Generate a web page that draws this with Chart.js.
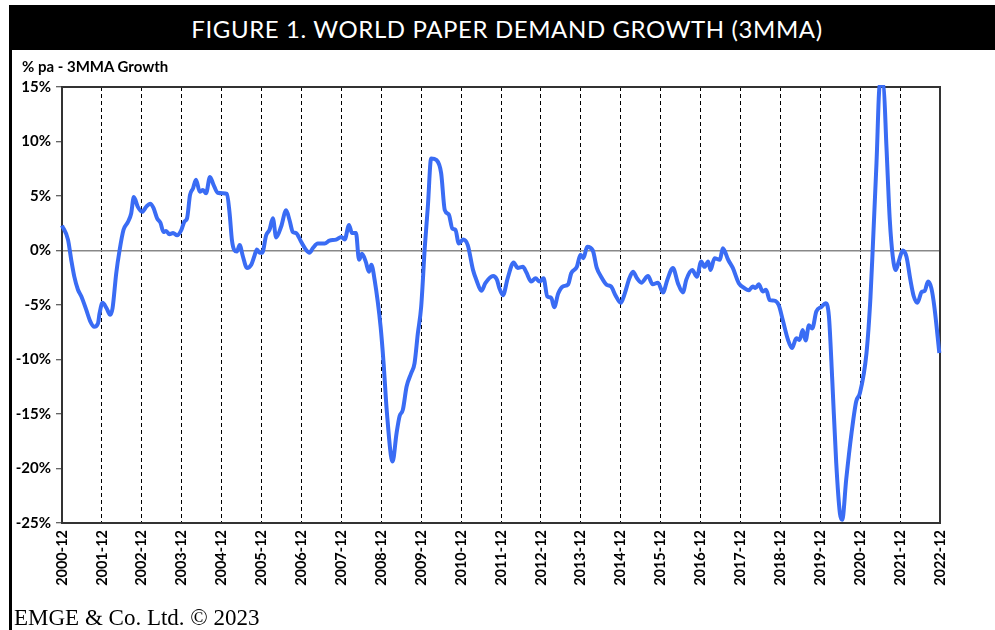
<!DOCTYPE html>
<html>
<head>
<meta charset="utf-8">
<script src="https://cdn.jsdelivr.net/npm/chart.js@4.4.1/dist/chart.umd.min.js"></script>
<style>
  html, body { margin: 0; padding: 0; background: #fff; }
  #wrap { position: relative; width: 995px; height: 630px; overflow: hidden; background: #fff; }
  #titlebar { position: absolute; left: 9px; top: 5px; width: 986px; height: 45px; background: #000; }
  #title { position: absolute; left: 9px; top: 5px; width: 996px; height: 45px; line-height: 47px; text-align: center;
           color: #fff; font-family: Lato, "Open Sans", sans-serif; font-weight: 400; font-size: 24px; letter-spacing: 0.6px; }
  #leftline { position: absolute; left: 9px; top: 50px; width: 3px; height: 580px; background: #000; }
  #ylab { position: absolute; left: 22px; top: 57px; font-family: Lato, sans-serif; font-weight: 700; font-size: 15px; color: #000; }
  #footer { position: absolute; left: 14px; top: 605px; font-family: "Liberation Serif", "DejaVu Serif", serif; font-size: 23px; color: #000; }
  #c { position: absolute; left: 0; top: 0; }
</style>
</head>
<body>
<div id="wrap">
  <canvas id="c" width="995" height="630"></canvas>
  <div id="titlebar"></div>
  <div id="title">FIGURE 1. WORLD PAPER DEMAND GROWTH (3MMA)</div>
  <div id="leftline"></div>
  <div id="ylab">% pa - 3MMA Growth</div>
  <div id="footer">EMGE &amp; Co. Ltd. © 2023</div>
</div>
<script>
// Months since 2000-12 (read positions along the curve)
const months = [
  0, 1.8, 2.8, 3.7, 4.8, 5.8, 7.3, 8.5, 9.7, 10.8, 11.3, 12.2, 13.4, 14.5, 15.2, 16.3, 17.3, 18.5, 19.8, 20.8,
  21.6, 22.8, 24.1, 25.3, 26.5, 27.5, 28.6, 29.6, 30.5, 31.3, 32.3, 33.4, 34.6, 35.9, 36.8, 37.6, 38.5, 39.4, 40.3, 41.4,
  42.4, 43.3, 44.5, 45.6, 46.8, 48.4, 49.6, 50.4, 51.1, 51.8, 52.6, 53.4, 54.4, 55.6, 56.9, 57.8, 58.6, 59.4, 60.2, 61.4,
  62.4, 63.4, 64.4, 65.9, 67.4, 68.4, 69.4, 70.4, 71.9, 73.4, 74.4, 75.5, 76.9, 79.0, 80.4, 82.4, 84.0, 85.0, 86.3, 87.2,
  88.4, 89.3, 90.2, 91.3, 92.3, 93.0, 94.0, 95.8, 96.7, 97.7, 99.4, 100.6, 101.5, 102.5, 103.6, 105.0, 106.0, 107.0, 108.0, 109.1,
  110.0, 111.0, 112.6, 114.0, 115.1, 116.3, 117.4, 118.3, 119.3, 120.6, 122.0, 123.6, 124.6, 126.1, 127.3, 129.6, 130.8, 131.5, 132.6, 134.0,
  135.8, 137.0, 138.6, 139.6, 141.1, 142.4, 143.6, 144.8, 145.9, 147.1, 148.0, 149.2, 150.6, 152.2, 153.1, 154.8, 155.9, 156.8, 157.9, 159.6,
  160.8, 162.1, 163.8, 165.1, 166.4, 168.0, 169.2, 170.6, 171.7, 172.9, 174.2, 176.2, 177.6, 179.2, 180.7, 182.0, 183.7, 185.2, 186.7, 187.7,
  189.5, 190.9, 192.2, 193.2, 194.3, 195.0, 196.2, 197.8, 198.7, 200.3, 201.7, 203.5, 205.2, 206.5, 207.7, 208.5, 209.5, 210.7, 211.7, 212.8,
  214.2, 215.5, 216.7, 218.3, 219.5, 220.8, 221.8, 222.7, 223.6, 224.6, 225.6, 226.8, 228.4, 229.6, 230.6, 231.6, 232.8, 233.9, 234.6, 235.8,
  237.4, 238.8, 239.9, 241.9, 243.1, 243.8, 244.9, 245.9, 247.0, 247.9, 248.9, 249.8, 250.7, 251.6, 252.8, 253.9, 255.1, 256.1, 257.2, 258.5,
  259.4, 260.4, 261.4, 262.3, 263.8
];
// World paper demand growth, % pa (3MMA)
const growth = [
  2.3, 1.0, -0.9, -2.4, -3.6, -4.2, -5.45, -6.5, -7.0, -6.7, -5.75, -4.8, -5.3, -5.9, -5.3, -2.1, 0.0, 1.9, 2.6, 3.4,
  4.9, 4.0, 3.55, 4.0, 4.3, 3.9, 2.95, 2.55, 1.7, 1.8, 1.5, 1.6, 1.4, 1.9, 2.65, 2.95, 5.1, 5.7, 6.5, 5.4,
  5.55, 5.25, 6.75, 6.0, 5.3, 5.25, 5.2, 3.4, 0.95, 0.05, -0.1, 0.5, -0.55, -1.6, -1.3, -0.55, 0.1, -0.2, -0.2, 1.4,
  1.9, 2.95, 1.2, 2.2, 3.7, 2.8, 1.7, 1.6, 0.8, 0.05, -0.2, 0.25, 0.65, 0.65, 0.9, 1.0, 1.25, 1.0, 2.35, 1.6,
  1.6, -0.85, -0.3, -1.0, -1.95, -1.3, -2.7, -7.0, -10.35, -14.9, -19.35, -16.75, -15.2, -14.6, -12.5, -11.25, -10.35, -7.6, -5.15, 0.35,
  4.0, 8.45, 8.3, 7.1, 3.7, 3.3, 2.0, 1.9, 0.65, 1.0, 0.5, -1.8, -2.7, -3.7, -3.0, -2.35, -2.7, -3.45, -4.1, -2.55,
  -1.1, -1.6, -1.5, -2.0, -2.85, -2.55, -2.85, -2.55, -4.2, -4.35, -5.2, -3.95, -3.3, -3.1, -2.1, -1.5, -0.4, -0.7, 0.35, 0.0,
  -1.6, -2.4, -3.15, -3.3, -4.1, -4.8, -3.95, -2.55, -1.95, -2.55, -2.95, -2.35, -3.1, -2.95, -3.85, -2.7, -1.6, -3.0, -3.85, -2.7,
  -1.8, -2.4, -1.0, -1.5, -1.0, -1.8, -0.7, -0.85, 0.2, -0.85, -1.6, -3.0, -3.45, -3.65, -3.3, -3.45, -3.1, -3.75, -3.6, -4.55,
  -4.6, -5.0, -6.35, -8.2, -8.95, -8.05, -8.2, -7.3, -8.25, -6.85, -7.15, -5.6, -5.15, -4.85, -6.05, -11.85, -19.5, -24.1, -24.7, -21.0,
  -16.75, -13.85, -13.1, -9.4, -4.25, 0.35, 8.0, 15.2, 15.1, 9.5, 2.8, -0.55, -1.8, -1.0, 0.0, -0.55, -2.7, -4.2, -4.8, -3.8,
  -3.7, -2.85, -3.45, -5.15, -9.4
];
const yearLabels = [
  "2000-12","2001-12","2002-12","2003-12","2004-12","2005-12","2006-12","2007-12","2008-12","2009-12","2010-12","2011-12",
  "2012-12","2013-12","2014-12","2015-12","2016-12","2017-12","2018-12","2019-12","2020-12","2021-12","2022-12"
];
const yTicks = [15, 10, 5, 0, -5, -10, -15, -20, -25];

const points = months.map((m, i) => ({ x: m, y: growth[i] }));

const boxPlugin = {
  id: 'box',
  beforeDatasetsDraw(chart) {
    const { ctx, chartArea: a } = chart;
    ctx.save();
    ctx.strokeStyle = '#333';
    ctx.lineWidth = 2;
    ctx.beginPath();
    ctx.moveTo(a.left, a.top);
    ctx.lineTo(a.right, a.top);
    ctx.lineTo(a.right, a.bottom);
    ctx.stroke();
    ctx.restore();
  }
};

new Chart(document.getElementById('c'), {
  type: 'line',
  data: {
    datasets: [{
      data: points,
      borderColor: '#3a6cf4',
      borderWidth: 4,
      pointRadius: 0,
      tension: 0.4,
      cubicInterpolationMode: 'monotone',
      fill: false,
      clip: 2
    }]
  },
  options: {
    responsive: false,
    animation: false,
    events: [],
    layout: { padding: { top: 87, right: 55, left: 0, bottom: 0 } },
    plugins: { legend: { display: false }, tooltip: { enabled: false }, title: { display: false } },
    scales: {
      x: {
        type: 'linear',
        min: 0,
        max: (yearLabels.length - 1) * 12,
        afterBuildTicks(scale) {
          scale.ticks = yearLabels.map((l, i) => ({ value: i * 12 }));
        },
        afterFit(scale) { scale.height = 107; },
        ticks: {
          autoSkip: false,
          minRotation: 90,
          maxRotation: 90,
          padding: 7,
          color: '#000',
          font: { family: 'Lato', weight: 'bold', size: 14.5 },
          callback: (v, i) => yearLabels[i]
        },
        grid: { color: '#000', lineWidth: 1, drawTicks: false },
        border: { display: true, color: '#333', width: 2, dash: [4, 3] }
      },
      y: {
        min: -25,
        max: 15,
        afterBuildTicks(scale) {
          scale.ticks = yTicks.map(v => ({ value: v }));
        },
        afterFit(scale) { scale.width = 62; },
        ticks: {
          padding: 5,
          color: '#000',
          font: { family: 'Lato', weight: 'bold', size: 15 },
          callback: v => v + '%'
        },
        grid: {
          color: ctx => (ctx.tick && ctx.tick.value === 0) ? '#888' : 'rgba(0,0,0,0)',
          lineWidth: 1.5,
          drawTicks: true,
          tickLength: 6,
          tickColor: '#333',
          tickWidth: 1
        },
        border: { display: true, color: '#333', width: 2 }
      }
    }
  },
  plugins: [boxPlugin]
});
</script>
</body>
</html>
